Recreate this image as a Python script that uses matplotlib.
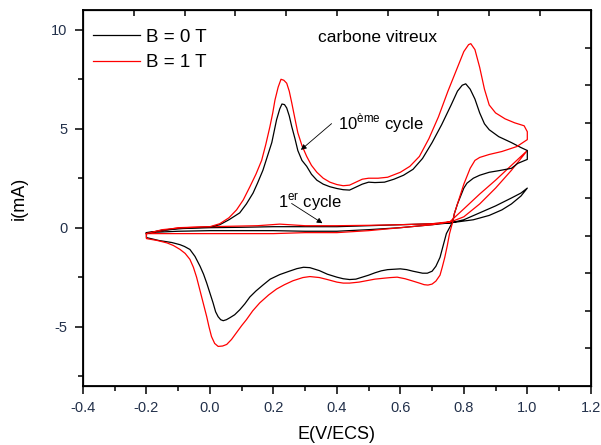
import numpy as np
import matplotlib
matplotlib.use('Agg')
import matplotlib.pyplot as plt

plt.rcParams['font.family'] = ['Liberation Sans', 'DejaVu Sans']
plt.rcParams['axes.unicode_minus'] = False

# ---------------- data ----------------
# 10th cycle, B = 0 T : forward (anodic) then reverse (cathodic) branch
e10_b0_fwd = [-0.20, -0.15, -0.10, -0.05, 0.00, 0.031, 0.06, 0.094, 0.115, 0.136, 0.15, 0.167,
              0.18, 0.195, 0.21, 0.22, 0.227, 0.235, 0.242, 0.25, 0.258, 0.268, 0.277, 0.29,
              0.305, 0.32, 0.337, 0.357, 0.378, 0.40, 0.42, 0.44, 0.46, 0.48, 0.50, 0.52, 0.55,
              0.58, 0.61, 0.64, 0.67, 0.70, 0.73, 0.76, 0.78, 0.795, 0.806, 0.82, 0.835, 0.85,
              0.865, 0.88, 0.91, 0.95, 0.98, 1.00]
i10_b0_fwd = [-0.30, -0.12, -0.05, 0.00, 0.03, 0.15, 0.40, 0.75, 1.20, 1.75, 2.25, 2.90,
              3.55, 4.30, 5.45, 6.00, 6.25, 6.22, 6.05, 5.65, 5.10, 4.50, 3.90, 3.40,
              3.10, 2.70, 2.40, 2.20, 2.07, 1.98, 1.92, 1.90, 2.05, 2.20, 2.30, 2.28, 2.30,
              2.45, 2.65, 2.95, 3.50, 4.30, 5.20, 6.20, 6.90, 7.20, 7.27, 7.00, 6.50, 5.80,
              5.25, 4.95, 4.60, 4.30, 4.05, 3.90]
e10_b0_rev = [1.00, 0.97, 0.95, 0.91, 0.88, 0.85, 0.83, 0.81, 0.80, 0.79, 0.78, 0.77, 0.765,
              0.755, 0.745, 0.735, 0.725, 0.712, 0.70, 0.685, 0.67, 0.64, 0.62, 0.60, 0.58,
              0.56, 0.54, 0.52, 0.50, 0.48, 0.46, 0.44, 0.42, 0.40, 0.37, 0.345, 0.315, 0.295,
              0.274, 0.25, 0.22, 0.19, 0.167, 0.145, 0.126, 0.11, 0.094, 0.078, 0.063, 0.052,
              0.042, 0.034, 0.026, 0.018, 0.01, 0.00, -0.01, -0.02, -0.031, -0.047, -0.063,
              -0.08, -0.094, -0.12, -0.16, -0.20, -0.20]
i10_b0_rev = [3.45, 3.25, 3.00, 2.88, 2.80, 2.65, 2.50, 2.25, 2.00, 1.60, 1.20, 0.70, 0.30,
              0.00, -0.30, -0.90, -1.50, -1.95, -2.20, -2.30, -2.30, -2.20, -2.12, -2.08, -2.10,
              -2.12, -2.18, -2.28, -2.40, -2.50, -2.60, -2.62, -2.58, -2.50, -2.35, -2.17, -2.02,
              -2.00, -2.07, -2.20, -2.37, -2.60, -2.90, -3.20, -3.50, -3.85, -4.15, -4.40, -4.55,
              -4.65, -4.70, -4.65, -4.50, -4.25, -3.80, -3.30, -2.80, -2.35, -1.95, -1.45, -1.10,
              -0.95, -0.86, -0.75, -0.65, -0.50, -0.30]

# 10th cycle, B = 1 T
e10_b1_fwd = [-0.20, -0.15, -0.10, -0.05, 0.00, 0.031, 0.06, 0.084, 0.105, 0.126, 0.145, 0.163,
              0.176, 0.189, 0.198, 0.205, 0.215, 0.224, 0.233, 0.242, 0.25, 0.258, 0.268, 0.277,
              0.29, 0.305, 0.32, 0.337, 0.357, 0.378, 0.40, 0.42, 0.44, 0.46, 0.48, 0.50, 0.53,
              0.56, 0.60, 0.63, 0.66, 0.69, 0.72, 0.75, 0.78, 0.80, 0.815, 0.822, 0.835, 0.85,
              0.865, 0.88, 0.90, 0.93, 0.96, 0.99, 1.00]
i10_b1_fwd = [-0.30, -0.10, -0.02, 0.02, 0.05, 0.20, 0.50, 0.90, 1.40, 2.07, 2.70, 3.40,
              4.20, 5.10, 5.80, 6.45, 7.10, 7.50, 7.45, 7.30, 6.90, 6.30, 5.50, 4.80,
              4.15, 3.60, 3.15, 2.80, 2.50, 2.30, 2.18, 2.12, 2.15, 2.30, 2.45, 2.50, 2.50,
              2.55, 2.80, 3.10, 3.60, 4.50, 5.60, 6.90, 8.10, 8.90, 9.25, 9.30, 9.00, 8.10,
              7.00, 6.20, 5.80, 5.50, 5.30, 5.15, 4.85]
e10_b1_rev = [1.00, 0.967, 0.92, 0.88, 0.85, 0.835, 0.82, 0.81, 0.80, 0.79, 0.78, 0.77, 0.765,
              0.76, 0.755, 0.748, 0.74, 0.732, 0.725, 0.712, 0.70, 0.687, 0.675, 0.66, 0.64,
              0.615, 0.59, 0.57, 0.55, 0.52, 0.50, 0.47, 0.44, 0.42, 0.40, 0.37, 0.345, 0.315,
              0.293, 0.262, 0.235, 0.21, 0.185, 0.157, 0.135, 0.115, 0.10, 0.084, 0.068, 0.053,
              0.04, 0.026, 0.015, 0.005, -0.003, -0.01, -0.018, -0.026, -0.034, -0.042, -0.052,
              -0.063, -0.078, -0.094, -0.115, -0.135, -0.165, -0.20, -0.20]
i10_b1_rev = [4.45, 4.10, 3.85, 3.70, 3.55, 3.40, 3.00, 2.60, 2.20, 1.70, 1.20, 0.70, 0.30,
              0.00, -0.30, -0.90, -1.50, -2.00, -2.40, -2.70, -2.85, -2.90, -2.88, -2.80, -2.70,
              -2.58, -2.50, -2.52, -2.55, -2.60, -2.66, -2.75, -2.80, -2.80, -2.75, -2.62, -2.52,
              -2.47, -2.52, -2.68, -2.88, -3.10, -3.40, -3.80, -4.20, -4.65, -4.95, -5.30, -5.65,
              -5.90, -5.98, -6.00, -5.85, -5.50, -5.00, -4.50, -4.00, -3.50, -3.00, -2.50, -2.00,
              -1.60, -1.30, -1.10, -0.90, -0.77, -0.65, -0.55, -0.30]

# 1st cycle, B = 0 T
e1_b0_fwd = [-0.20, -0.10, 0.00, 0.10, 0.20, 0.30, 0.40, 0.50, 0.60, 0.70, 0.76, 0.80, 0.85,
             0.90, 0.95, 0.98, 1.00]
i1_b0_fwd = [-0.25, -0.05, 0.00, 0.02, 0.05, 0.05, 0.05, 0.10, 0.15, 0.20, 0.25, 0.40, 0.75,
             1.10, 1.50, 1.75, 2.00]
e1_b0_rev = [1.00, 0.98, 0.95, 0.92, 0.88, 0.83, 0.76, 0.70, 0.60, 0.50, 0.40, 0.30, 0.20,
             0.10, 0.00, -0.10, -0.20]
i1_b0_rev = [2.00, 1.60, 1.20, 0.90, 0.62, 0.40, 0.25, 0.15, 0.00, -0.10, -0.18, -0.18, -0.15,
             -0.15, -0.15, -0.18, -0.25]

# 1st cycle, B = 1 T
e1_b1_fwd = [-0.20, -0.10, 0.00, 0.15, 0.22, 0.30, 0.40, 0.50, 0.60, 0.70, 0.756, 0.80, 0.85,
             0.90, 0.95, 1.00]
i1_b1_fwd = [-0.30, 0.00, 0.05, 0.10, 0.18, 0.10, 0.10, 0.12, 0.15, 0.20, 0.30, 0.95, 1.70,
             2.40, 3.15, 3.90]
e1_b1_rev = [1.00, 0.95, 0.90, 0.85, 0.80, 0.76, 0.70, 0.60, 0.50, 0.40, 0.30, 0.20, 0.10,
             0.00, -0.10, -0.20]
i1_b1_rev = [3.90, 2.90, 2.00, 1.20, 0.55, 0.30, 0.15, 0.00, -0.15, -0.25, -0.25, -0.30, -0.30,
             -0.30, -0.30, -0.30]

labels = ['B = 0 T', 'B = 1 T']
colors = ['black', '#ff0000']

# ---------------- plot ----------------
fig = plt.figure(figsize=(6.01, 4.45), dpi=100)
ax = fig.add_axes([0.138, 0.1326, 0.845, 0.8449])

lw = 0.9
ax.plot(e1_b0_fwd + e1_b0_rev, i1_b0_fwd + i1_b0_rev, color=colors[0], lw=lw)
ax.plot(e1_b1_fwd + e1_b1_rev, i1_b1_fwd + i1_b1_rev, color=colors[1], lw=lw)
ax.plot(e10_b0_fwd + e10_b0_rev, i10_b0_fwd + i10_b0_rev, color=colors[0], lw=lw, label=labels[0])
ax.plot(e10_b1_fwd + e10_b1_rev, i10_b1_fwd + i10_b1_rev, color=colors[1], lw=lw, label=labels[1])

ax.set_xlim(-0.4, 1.2)
ax.set_ylim(-8, 11)
ax.set_xticks(np.arange(-0.4, 1.21, 0.2))
ax.set_xticks(np.arange(-0.4, 1.21, 0.1), minor=True)
ax.set_yticks([-5, 0, 5, 10])
ax.set_yticks([-7.5, -2.5, 2.5, 7.5], minor=True)
ax.xaxis.set_major_formatter(matplotlib.ticker.FormatStrFormatter('%.1f'))

tick_col = '#22304a'
ax.tick_params(which='major', direction='out', length=6, width=1.1, labelsize=10.5,
               colors='black', labelcolor=tick_col, pad=5)
ax.tick_params(which='minor', direction='out', length=3.5, width=1.1)
for sp in ax.spines.values():
    sp.set_linewidth(1.3)

# top/right axes with ten even divisions, inward ticks
axt = ax.twiny()
axt.set_xlim(0, 10)
axt.set_xticks(range(1, 10))
axt.tick_params(direction='in', length=4, width=1.1, labeltop=False)
axr = ax.twinx()
axr.set_ylim(0, 10)
axr.set_yticks(range(1, 10))
axr.tick_params(direction='in', length=4, width=1.1, labelright=False)

ax.set_xlabel('E(V/ECS)', fontsize=13, labelpad=8)
ax.set_ylabel('i(mA)', fontsize=13, labelpad=17)

leg = ax.legend(loc='upper left', frameon=False, fontsize=13.5, handlelength=2.5,
                handletextpad=0.35, labelspacing=0.45, borderaxespad=0.0,
                bbox_to_anchor=(0.005, 0.97))

ax.text(0.34, 9.6, 'carbone vitreux', fontsize=12.5, va='center', ha='left')
ax.annotate('', xy=(0.28, 3.84), xytext=(0.39, 5.35),
            arrowprops=dict(arrowstyle='-|>', color='black', lw=0.6, mutation_scale=8))
ax.text(0.405, 5.3, r'10$^{\mathregular{ème}}$ cycle', fontsize=12, va='center', ha='left')
ax.annotate('', xy=(0.362, 0.15), xytext=(0.25, 1.3),
            arrowprops=dict(arrowstyle='-|>', color='black', lw=0.6, mutation_scale=8))
ax.text(0.215, 1.3, r'1$^{\mathregular{er}}$ cycle', fontsize=12, va='center', ha='left')

plt.savefig('out.png', dpi=100)
